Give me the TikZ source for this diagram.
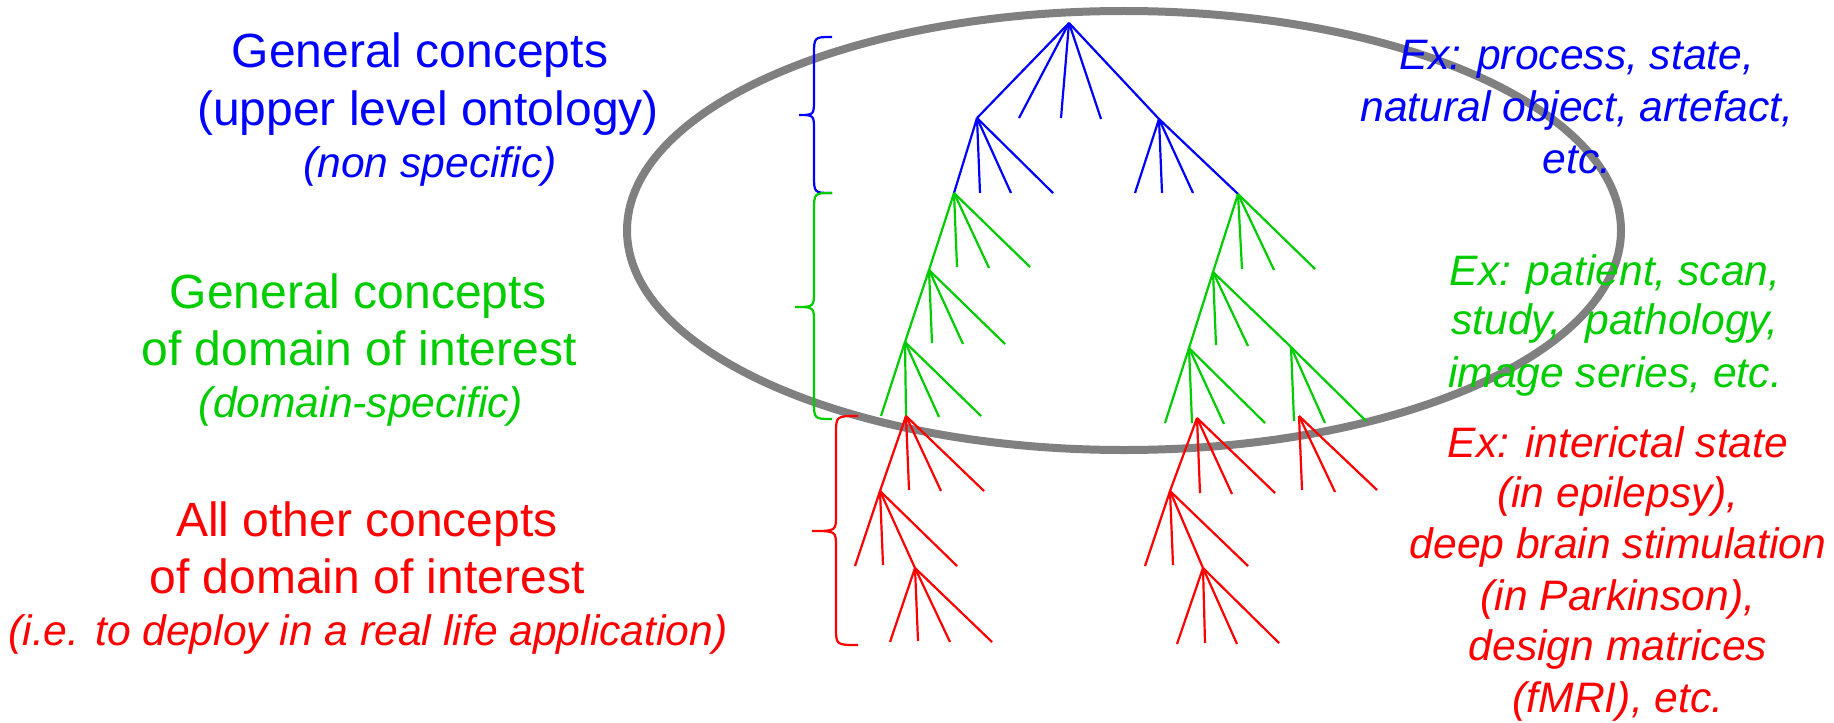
\documentclass[tikz,border=0pt]{standalone}
\usepackage{fontspec}
\setmainfont{Liberation Sans}
\definecolor{upblue}{RGB}{0,0,255}
\definecolor{domgreen}{RGB}{0,204,0}
\definecolor{appred}{RGB}{255,0,0}
\definecolor{ringgray}{RGB}{128,128,128}
% one parent, several free leaf ends
\newcommand{\fan}[4]{\foreach \x/\y [count=\i] in {#4} {\coordinate (#3\i) at (\x,\y); \draw[#1] (#2) -- (#3\i);}}
% curly brace: colour, x end, x bar, x tip, y top, y tip, y bottom
\newcommand{\levelbrace}[7]{\draw[#1, line width=1.1pt] (#2,#5) .. controls (#3,#5) .. (#3,{#5+18})
  -- (#3,{#6-16}) .. controls (#3,#6) .. (#4,#6) .. controls (#3,#6) .. (#3,{#6+16})
  -- (#3,{#7-18}) .. controls (#3,#7) .. (#2,#7);}
\begin{document}
\begin{tikzpicture}[x=0.5pt, y=-0.5pt,
  head/.style={font=\fontsize{24}{29}\selectfont, anchor=base, inner sep=0pt},
  note/.style={font=\fontsize{21.3}{25.5}\selectfont\itshape, anchor=base, inner sep=0pt},
  upln/.style={upblue, line width=1.1pt},
  domln/.style={domgreen, line width=1.1pt},
  appln/.style={appred, line width=1.1pt}]
\useasboundingbox (0,0) rectangle (1834,722);
% ontology ring
\draw[ringgray, line width=4pt] (1124,230.5) ellipse [x radius=497, y radius=219.5];
% left labels
\node[head, upblue] (upl1) at (420,68) {General concepts};
\node[head, upblue] (upl2) at (428,126) {(upper level ontology)};
\node[note, upblue] (upl3) at (430,177) {(non specific)};
\node[head, domgreen] (doml1) at (358,308) {General concepts};
\node[head, domgreen] (doml2) at (359,365) {of domain of interest};
\node[note, domgreen] (doml3) at (361,417) {(domain-specific)};
\node[head, appred] (appl1) at (367,536) {All other concepts};
\node[head, appred] (appl2) at (367,593) {of domain of interest};
\node[note, appred] (appl3) at (368,645) {(i.e. to deploy in a real life application)};
% examples on the right
\node[note, upblue] (upex1) at (1577,70) {Ex: process, state,};
\node[note, upblue] (upex2) at (1577,121) {natural object, artefact,};
\node[note, upblue] (upex3) at (1577,173) {etc.};
\node[note, domgreen] (domex1) at (1615,285) {Ex: patient, scan,};
\node[note, domgreen] (domex2) at (1615,334) {study,\ \ pathology,};
\node[note, domgreen] (domex3) at (1615,387) {image series, etc.};
\node[note, appred] (appex1) at (1618,457) {Ex: interictal state};
\node[note, appred] (appex2) at (1618,507) {(in epilepsy),};
\node[note, appred] (appex3) at (1618,558) {deep brain stimulation};
\node[note, appred] (appex4) at (1618,610) {(in Parkinson),};
\node[note, appred] (appex5) at (1618,660) {design matrices};
\node[note, appred] (appex6) at (1618,712) {(fMRI), etc.};
% branch points
\coordinate (top) at (1069,23);
\coordinate (ul) at (977,118);  \coordinate (ur) at (1159,119);
\coordinate (gl1) at (954,193); \coordinate (gl2) at (929,270); \coordinate (gl3) at (905,342);
\coordinate (gr1) at (1238,194); \coordinate (gr2) at (1213,272);
\coordinate (gr3) at (1189,348); \coordinate (gr4) at (1291,347);
\coordinate (rl1) at (906,416); \coordinate (rl2) at (880,491); \coordinate (rl3) at (915,568);
\coordinate (rr1) at (1197,418); \coordinate (rr2) at (1170,491); \coordinate (rr3) at (1203,568);
\coordinate (rr4) at (1299,416);
% upper level
\draw[upln] (top) -- (ul);
\draw[upln] (top) -- (ur);
\fan{upln}{top}{ta}{1019/118, 1061/118, 1101/119}
\draw[upln] (ul) -- (gl1);
\fan{upln}{ul}{ua}{980/193, 1011/193, 1053/193}
\draw[upln] (ur) -- (gr1);
\fan{upln}{ur}{ub}{1135/193, 1162/193, 1193/193}
% domain level
\draw[domln] (gl1) -- (gl2);
\fan{domln}{gl1}{ga}{957/267, 989/268, 1030/267}
\draw[domln] (gl2) -- (gl3);
\fan{domln}{gl2}{gb}{932/343, 963/344, 1005/344}
\draw[domln] (gl3) -- (rl1);
\fan{domln}{gl3}{gc}{881/416, 939/417, 981/416}
\draw[domln] (gr1) -- (gr2);
\fan{domln}{gr1}{gd}{1242/269, 1274/270, 1315/269}
\draw[domln] (gr2) -- (gr3);
\draw[domln] (gr2) -- (gr4);
\fan{domln}{gr2}{ge}{1216/345, 1248/346}
\fan{domln}{gr3}{gf}{1165/423, 1192/423, 1224/424, 1265/423}
\fan{domln}{gr4}{gg}{1294/421, 1325/423, 1366/421}
% application level
\draw[appln] (rl1) -- (rl2);
\fan{appln}{rl1}{ra}{909/490, 941/491, 984/491}
\draw[appln] (rl2) -- (rl3);
\fan{appln}{rl2}{rb}{855/566, 883/565, 957/566}
\fan{appln}{rl3}{rc}{890/642, 918/641, 950/642, 992/642}
\draw[appln] (rr1) -- (rr2);
\fan{appln}{rr1}{rd}{1200/493, 1232/494, 1275/493}
\draw[appln] (rr2) -- (rr3);
\fan{appln}{rr2}{re}{1145/566, 1173/565, 1248/566}
\fan{appln}{rr3}{rf}{1177/644, 1205/643, 1237/644, 1279/643}
\fan{appln}{rr4}{rg}{1302/490, 1335/492, 1377/490}
% braces
\levelbrace{upblue}{832}{814}{799}{37}{115}{193}
\levelbrace{domgreen}{832}{814}{795}{193}{307}{419}
\levelbrace{appred}{858}{836}{812}{416}{531}{645}
\end{tikzpicture}
\end{document}
